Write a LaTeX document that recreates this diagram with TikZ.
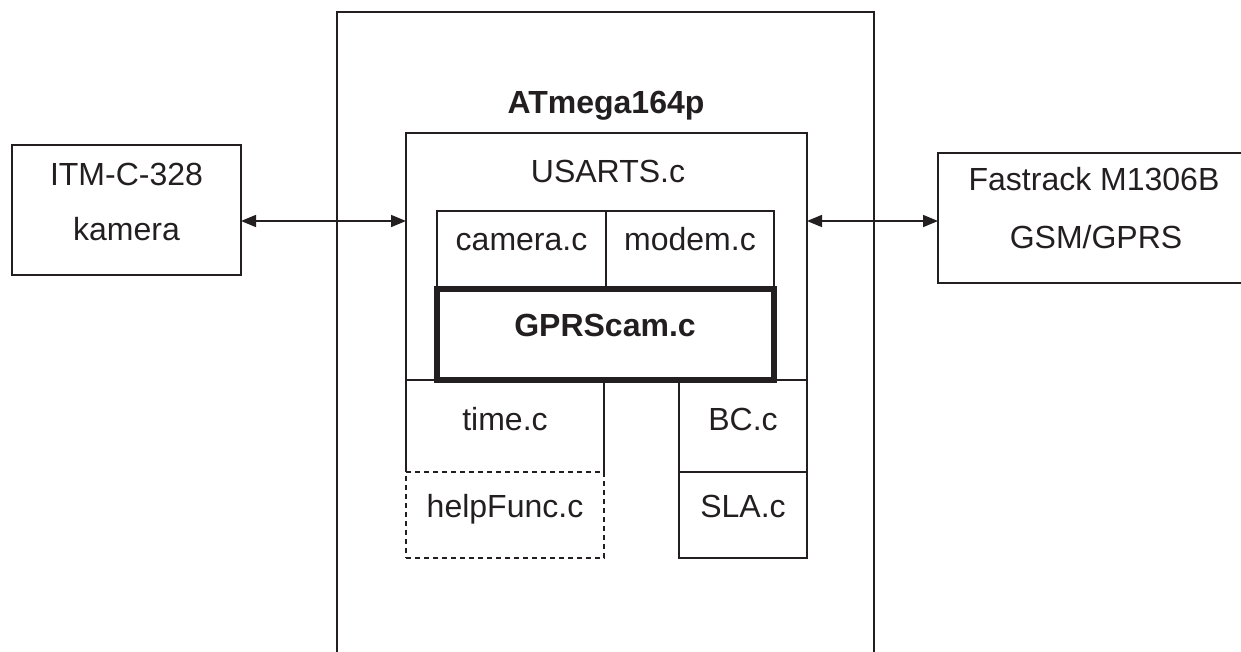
\documentclass[tikz,border=0pt]{standalone}
\usepackage{fontspec}
\setmainfont{Liberation Sans}
\usetikzlibrary{arrows.meta}
\definecolor{ink}{HTML}{231F20}
\begin{document}
\begin{tikzpicture}[x=1pt,y=-1pt,
  box/.style={draw=ink,line width=1.6pt,inner sep=0pt,outer sep=0pt,rectangle},
  nobox/.style={inner sep=0pt,outer sep=0pt,rectangle},
  lbl/.style={anchor=base,inner sep=0pt,text=ink,font=\fontsize{32}{38}\selectfont},
  blbl/.style={lbl,font=\fontsize{32}{38}\selectfont\bfseries},
  arr/.style={draw=ink,line width=1.6pt,{Triangle[length=15pt,width=12pt]}-{Triangle[length=15pt,width=12pt]}},
  dashbox/.style={box,dash pattern=on 5pt off 4pt}]
\useasboundingbox (0,0) rectangle (1241,651);
\clip (0,0) rectangle (1241,651);
% boxes
\node[box,minimum width=537pt,minimum height=658pt] (atm) at (605.5,341) {};
\node[box,minimum width=229pt,minimum height=130pt] (itm) at (126.5,210) {};
\node[box,minimum width=322pt,minimum height=130pt] (fast) at (1099,218) {};
\node[box,minimum width=401pt,minimum height=247pt] (usarts) at (606.5,256.5) {};
\node[box,minimum width=169pt,minimum height=77pt] (cam) at (521.5,249.5) {};
\node[box,minimum width=168pt,minimum height=77pt] (mod) at (690,249.5) {};
\node[nobox,minimum width=198pt,minimum height=92pt] (time) at (505,426) {};
\draw[draw=ink,line width=1.6pt] (time.south west) -- (time.north west) -- (time.north east) -- (time.south east);
\node[dashbox,minimum width=198pt,minimum height=86pt] (help) at (505,515) {};
\node[box,minimum width=128pt,minimum height=92pt] (bc) at (743,426) {};
\node[box,minimum width=128pt,minimum height=86pt] (sla) at (743,515) {};
\node[box,line width=6pt,minimum width=337pt,minimum height=91pt] (gprs) at (605.5,334) {};
% labels
\node[blbl] (tatm) at (606,113) {ATmega164p};
\node[lbl] (tusarts) at (608,182) {USARTS.c};
\node[lbl] (tcam) at (521.5,250) {camera.c};
\node[lbl] (tmod) at (690,250) {modem.c};
\node[blbl] (tgprs) at (605,336) {GPRScam.c};
\node[lbl] (ttime) at (505,430) {time.c};
\node[lbl] (thelp) at (505,517) {helpFunc.c};
\node[lbl] (tbc) at (743,430) {BC.c};
\node[lbl] (tsla) at (743,517) {SLA.c};
\node[lbl] (titm1) at (126.5,185) {ITM-C-328};
\node[lbl] (titm2) at (126.5,240) {kamera};
\node[lbl] (tfast1) at (1094,190) {Fastrack M1306B};
\node[lbl] (tfast2) at (1096,248) {GSM/GPRS};
% connectors
\coordinate (ya) at (0,221);
\draw[arr] (itm.east |- ya) -- (usarts.west |- ya);
\draw[arr] (usarts.east |- ya) -- (fast.west |- ya);
\end{tikzpicture}
\end{document}
